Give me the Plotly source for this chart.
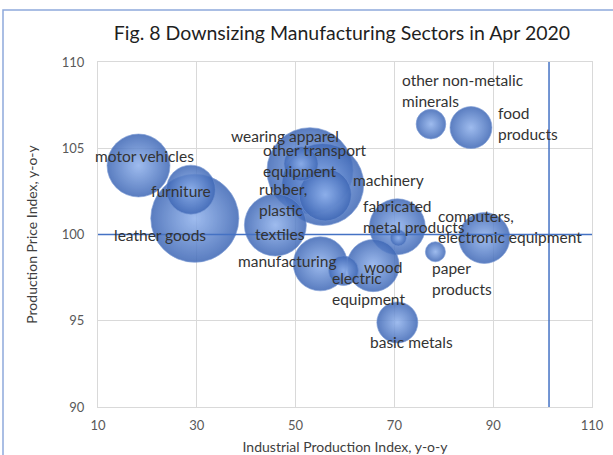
import plotly.graph_objects as go

# Sector data: industrial production index (x), producer price index (y), bubble weight
sectors = [
    "motor vehicles", "leather goods", "furniture", "textiles",
    "wearing apparel", "machinery", "other transport\nequipment", "rubber,\nplastic",
    "manufacturing", "electric\nequipment", "wood", "basic metals",
    "fabricated\nmetal products", "", "paper\nproducts",
    "computers,\nelectronic equipment", "other non-metalic\nminerals", "food\nproducts",
]
production_index = [18.2, 29.6, 28.8, 45.9, 52.9, 55.5, 51.1, 56.0,
                    55.0, 59.7, 65.7, 70.6, 70.6, 70.8, 78.3, 88.2, 77.4, 85.5]
price_index = [104.0, 100.94, 102.6, 100.55, 103.7, 102.9, 104.1, 102.3,
               98.3, 97.9, 98.2, 94.9, 100.45, 99.8, 99.0, 99.8, 106.4, 106.2]
weight = [99, 194, 60, 96, 185, 168, 29, 68,
          73, 22, 68, 42, 78, 6.4, 10, 65, 22, 44]

x_ticks = [10, 30, 50, 70, 90, 110]
y_ticks = [90, 95, 100, 105, 110]
price_base = 100
output_base = 101.3

# Label placement: pixel offset of the first text line from the bubble centre
label_pos = {
    "motor vehicles": (6, -10, "center"),
    "leather goods": (-35, 17, "center"),
    "furniture": (-10, 1, "center"),
    "textiles": (5, 9, "center"),
    "wearing apparel": (-25, -35, "center"),
    "machinery": (66, -4, "center"),
    "other transport\nequipment": (-40, -14, "left"),
    "rubber,\nplastic": (-68, -6, "left"),
    "manufacturing": (-33, -3, "center"),
    "electric\nequipment": (-14, 7, "left"),
    "wood": (10, 1, "center"),
    "basic metals": (14, 20, "center"),
    "fabricated\nmetal products": (-36, -21, "left"),
    "paper\nproducts": (-5, 16, "left"),
    "computers,\nelectronic equipment": (-48, -22, "left"),
    "other non-metalic\nminerals": (-31, -44, "left"),
    "food\nproducts": (25, -15, "left"),
}
LINE_STEP = 21

FONT = "Lato, 'Open Sans', sans-serif"
BLUE = "#4472C4"

# draw larger bubbles first so smaller ones sit on top
order = sorted(range(len(weight)), key=lambda i: -weight[i])

fig = go.Figure()
fig.add_trace(go.Scatter(
    x=[production_index[i] for i in order],
    y=[price_index[i] for i in order],
    mode="markers",
    marker=dict(
        size=[weight[i] for i in order],
        sizemode="area",
        sizeref=0.05,
        opacity=0.86,
        color="#3F68B6",
        gradient=dict(type="radial", color="#8FB1EC"),
        line=dict(width=0.8, color="rgba(110,145,210,0.8)"),
    ),
    text=[sectors[i].replace("\n", " ") for i in order],
    hoverinfo="text",
    showlegend=False,
))

annotations = []
for name, xv, yv in zip(sectors, production_index, price_index):
    if not name:
        continue
    dx, dy, anchor = label_pos[name]
    for k, line in enumerate(name.split("\n")):
        annotations.append(dict(
            x=xv, y=yv, xref="x", yref="y", text=line, showarrow=False,
            xanchor=anchor, yanchor="middle",
            xshift=dx, yshift=-(dy + k * LINE_STEP),
            font=dict(family=FONT, size=15.5, color="#333333"),
        ))

shapes = [
    dict(type="line", xref="paper", yref="y", x0=0, x1=1, y0=price_base, y1=price_base,
         line=dict(color=BLUE, width=1.5), layer="above"),
    dict(type="line", xref="x", yref="paper", x0=output_base, x1=output_base, y0=0, y1=1,
         line=dict(color=BLUE, width=1.5), layer="above"),
    # chart frame
    dict(type="rect", xref="paper", yref="paper", x0=-0.1923, x1=1.06, y0=-0.16, y1=1.1507,
         line=dict(color="#8EA9DB", width=1.5), layer="below"),
]

fig.update_layout(
    width=613, height=455,
    margin=dict(l=98, r=21, t=62, b=48),
    paper_bgcolor="white", plot_bgcolor="white",
    title=dict(text="Fig. 8 Downsizing Manufacturing Sectors in Apr 2020",
               x=342 / 613, xanchor="center", y=1 - 33 / 455, yanchor="middle",
               font=dict(family=FONT, size=19.5, color="#1F1F1F")),
    font=dict(family=FONT),
    annotations=annotations,
    shapes=shapes,
)
fig.update_xaxes(
    range=[10, 110], tickvals=x_ticks, showgrid=True, gridcolor="#D9D9D9", gridwidth=1,
    zeroline=False, showline=True, linecolor="#D9D9D9", mirror=True, automargin=False,
    ticks="", ticklabelstandoff=6, tickfont=dict(family=FONT, size=13, color="#595959"),
    title=dict(text="Industrial Production Index, y-o-y", standoff=12,
               font=dict(family=FONT, size=14, color="#404040")),
)
fig.update_yaxes(
    range=[90, 110], tickvals=y_ticks, showgrid=True, gridcolor="#D9D9D9", gridwidth=1,
    zeroline=False, showline=True, linecolor="#D9D9D9", mirror=True, automargin=False,
    ticks="", ticklabelstandoff=10, tickfont=dict(family=FONT, size=13, color="#595959"),
    title=dict(text="Production Price Index, y-o-y", standoff=20,
               font=dict(family=FONT, size=14, color="#404040")),
)

fig.write_html("out.html")
